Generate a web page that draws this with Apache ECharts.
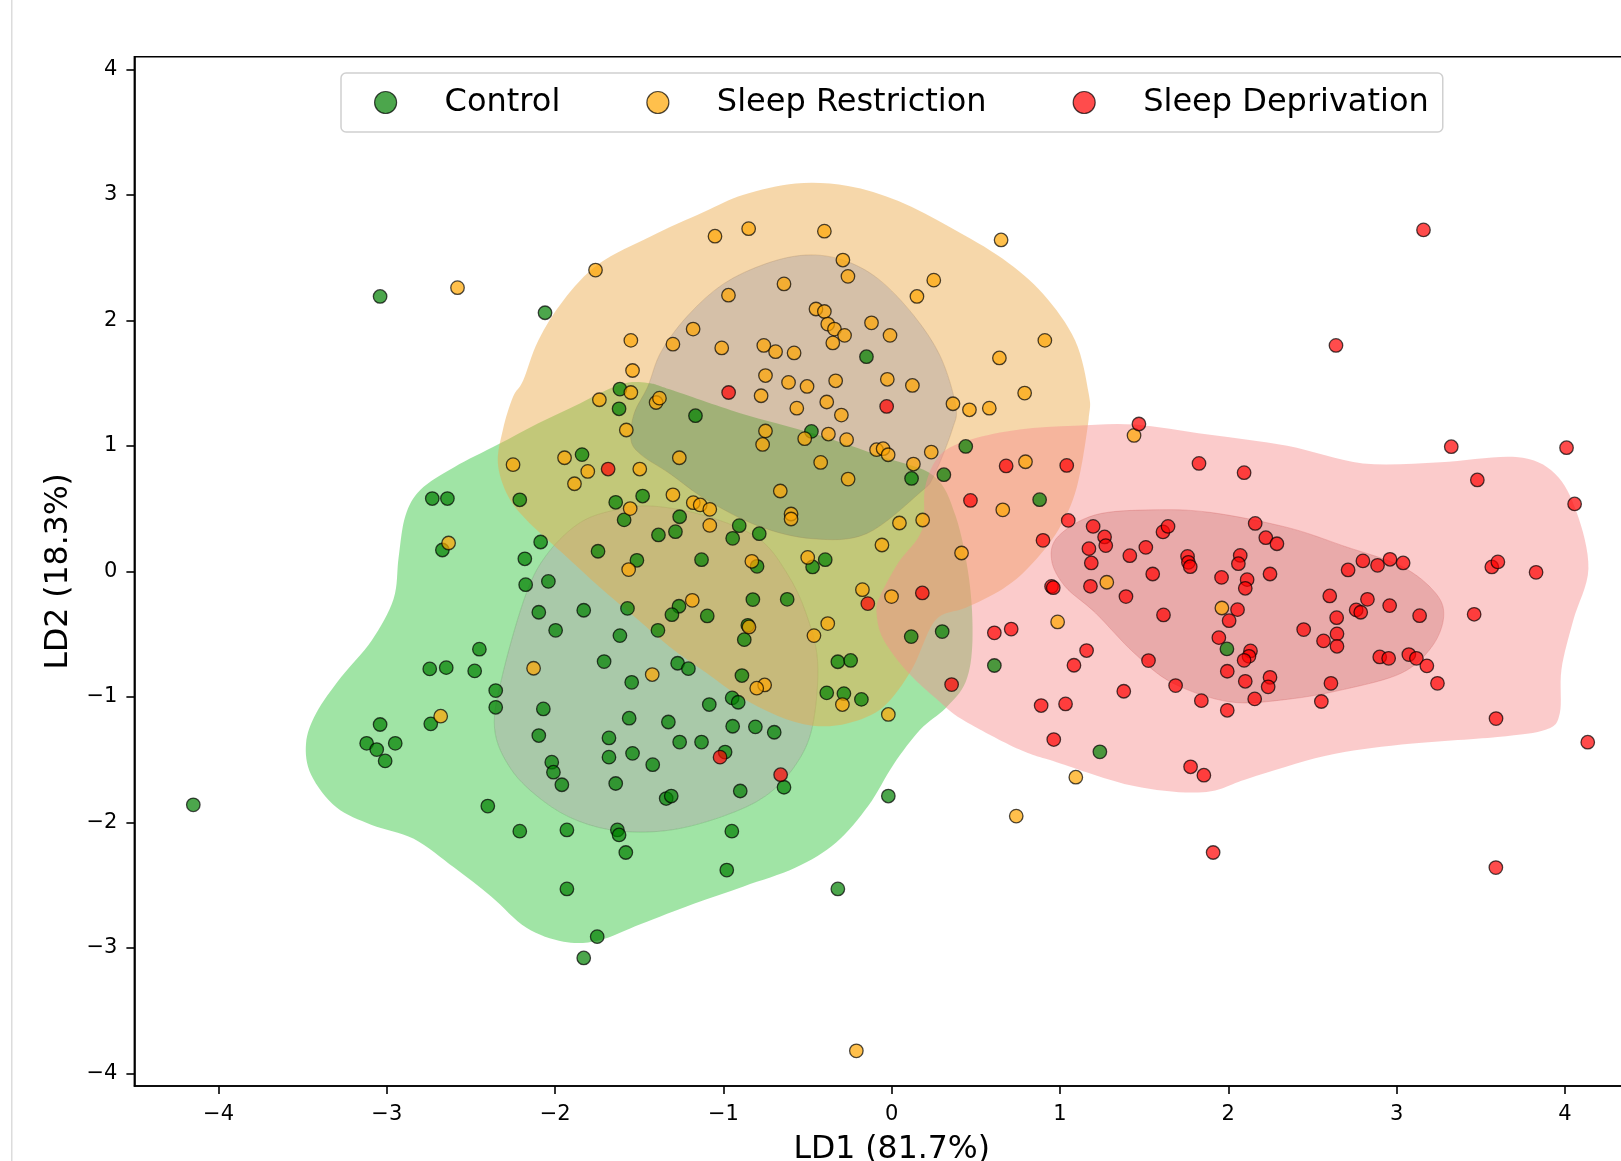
<!DOCTYPE html>
<html><head><meta charset="utf-8">
<script src="https://cdn.jsdelivr.net/npm/echarts@6/dist/echarts.min.js"></script>
<style>html,body{margin:0;padding:0;background:#fff}#c{width:1621px;height:1161px}</style>
</head><body><div id="c"></div><script>
const xTicks = [-4,-3,-2,-1,0,1,2,3,4];
const yTicks = [-4,-3,-2,-1,0,1,2,3,4];
const groupNames = ['Control','Sleep Restriction','Sleep Deprivation'];

const controlPts = [[-3.04,2.19],[-2.06,2.06],[-4.15,-1.86],[-0.15,1.71],
[-1.615,1.452],[-1.62,1.295],[-1.166,1.24],[-0.477,1.115],[0.44,0.995],[-1.84,0.93],[0.118,0.74],[0.31,0.77],
[-2.73,0.58],[-2.64,0.58],[-2.21,0.57],[0.879,0.571],[-1.64,0.55],[-1.48,0.60],[-1.26,0.435],[-1.59,0.41],
[-0.906,0.364],[-0.945,0.263],[-0.787,0.30],[-1.285,0.316],[-1.386,0.29],[-2.086,0.234],[-2.67,0.17],[-1.745,0.16],
[-2.18,0.10],[-1.514,0.088],[-1.13,0.093],[-0.80,0.04],[-0.47,0.035],[-0.395,0.093],[-2.04,-0.08],[-2.175,-0.106],
[-0.621,-0.223],[-0.825,-0.225],[-1.57,-0.295],[-1.83,-0.31],[-2.097,-0.326],[-1.264,-0.278],[-1.306,-0.345],[-1.096,-0.355],
[-1.997,-0.47],[-1.389,-0.47],[-0.876,-0.544],[-0.855,-0.43],[-1.615,-0.512],[0.116,-0.52],[0.30,-0.48],
[-1.709,-0.719],[-2.45,-0.62],[-2.745,-0.777],[-2.647,-0.767],[-2.478,-0.793],[-1.272,-0.732],[-1.208,-0.775],[-1.545,-0.884],[-0.89,-0.83],
[-0.32,-0.72],[-0.244,-0.71],[0.61,-0.75],[-2.353,-0.95],[-2.353,-1.083],[-2.07,-1.096],[-1.084,-1.061],[-0.948,-1.008],[-0.912,-1.043],
[-0.386,-0.968],[-0.284,-0.974],[-0.18,-1.02],[-3.04,-1.22],[-2.739,-1.215],[-1.56,-1.17],[-1.327,-1.2],[-0.945,-1.234],[-0.81,-1.239],[-0.698,-1.282],
[-2.097,-1.308],[-1.68,-1.327],[-3.12,-1.37],[-3.06,-1.42],[-2.95,-1.37],[-3.01,-1.51],[-2.02,-1.52],[-1.68,-1.48],[-1.54,-1.45],[-1.26,-1.36],[-1.13,-1.36],
[-0.99,-1.44],[-1.42,-1.54],[-2.01,-1.60],[-1.96,-1.70],[-1.64,-1.69],[-0.90,-1.75],[-0.64,-1.72],[-1.34,-1.81],[-1.31,-1.79],[-2.40,-1.87],[-0.02,-1.79],
[-2.21,-2.07],[-1.93,-2.06],[-1.63,-2.06],[-1.62,-2.10],[-0.95,-2.07],[-1.58,-2.24],[-0.98,-2.38],[-0.32,-2.53],[-1.93,-2.53],[-1.75,-2.91],[-1.83,-3.08],
[1.237,-1.438],[1.992,-0.618]];

const restrictionPts = [[-2.58,2.26],[-1.76,2.40],[-1.05,2.67],[-0.85,2.73],[-0.40,2.71],[0.65,2.64],[-0.29,2.48],[-0.26,2.35],[-0.64,2.29],[0.25,2.32],
[-0.97,2.20],[0.15,2.19],[-0.45,2.09],[-0.40,2.07],[-0.38,1.97],[-0.34,1.93],[-0.28,1.88],[-0.12,1.98],[-1.18,1.93],[-1.55,1.84],
[-1.30,1.81],[-0.01,1.88],[-0.35,1.82],[-1.01,1.78],[-0.76,1.80],[-0.69,1.75],[-0.58,1.74],[0.91,1.84],[-1.54,1.60],[0.64,1.70],
[-0.75,1.56],[-0.613,1.505],[-0.503,1.473],[-0.333,1.518],[-0.026,1.53],[0.123,1.481],[-0.776,1.399],[-1.55,1.425],[-1.737,1.367],[-1.40,1.345],
[-1.38,1.38],[-0.386,1.349],[0.79,1.42],[-0.564,1.30],[-0.299,1.245],[0.364,1.335],[0.462,1.287],[0.58,1.30],[-0.75,1.118],[-1.577,1.126],
[-0.517,1.057],[-0.376,1.094],[-0.268,1.049],[-0.767,1.011],[-0.09,0.969],[-0.051,0.977],[-0.021,0.929],[0.235,0.95],[0.129,0.855],[-1.262,0.905],
[-1.944,0.905],[-2.25,0.85],[-1.806,0.796],[-1.497,0.815],[-0.422,0.868],[0.795,0.873],[-1.885,0.698],[-0.259,0.735],[-0.662,0.64],[-1.30,0.61],
[-1.179,0.547],[-1.138,0.529],[-1.081,0.494],[0.66,0.49],[-0.598,0.457],[-0.598,0.417],[-1.554,0.50],[0.184,0.409],[0.046,0.385],[-1.081,0.366],
[-2.633,0.226],[-0.058,0.21],[0.415,0.146],[-0.499,0.111],[-0.831,0.08],[-1.563,0.014],[-0.174,-0.146],[-0.001,-0.201],[-1.185,-0.231],[-0.848,-0.443],
[-0.38,-0.416],[-0.462,-0.512],[0.986,-0.403],[-1.423,-0.822],[-2.128,-0.772],[-0.755,-0.905],[-0.802,-0.931],[-2.68,-1.154],[-0.02,-1.14],[-0.293,-1.061],
[1.094,-1.64],[0.74,-1.95],[-0.21,-3.82],[1.278,-0.087],[1.44,1.083],[1.962,-0.292]];

const deprivationPts = [[3.16,2.72],[2.64,1.80],[-0.969,1.425],[-0.03,1.314],[1.469,1.174],[3.325,0.993],[4.01,0.985],[1.826,0.86],[2.094,0.786],[1.04,0.844],
[0.68,0.84],[3.48,0.728],[-1.685,0.815],[0.468,0.565],[4.058,0.537],[1.049,0.406],[1.197,0.358],[1.265,0.274],[1.272,0.205],[1.172,0.181],
[1.612,0.314],[1.642,0.358],[1.51,0.191],[1.415,0.125],[2.16,0.382],[2.223,0.268],[2.289,0.22],[0.899,0.247],[1.758,0.119],[1.763,0.072],
[1.774,0.037],[2.071,0.127],[2.06,0.061],[1.186,0.067],[1.551,-0.021],[2.248,-0.021],[1.96,-0.048],[2.8,0.083],[2.887,0.048],[2.961,0.096],
[3.039,0.067],[2.712,0.011],[3.566,0.035],[3.602,0.075],[3.829,-0.008],[0.95,-0.12],[0.96,-0.13],[1.181,-0.119],[2.112,-0.066],[2.101,-0.135],
[1.392,-0.201],[2.603,-0.196],[2.827,-0.223],[2.055,-0.305],[2.76,-0.307],[2.787,-0.326],[2.959,-0.273],[2.644,-0.369],[3.137,-0.353],[3.461,-0.342],
[-0.142,-0.257],[0.182,-0.172],[0.61,-0.49],[0.71,-0.46],[1.615,-0.347],[2.005,-0.393],[2.448,-0.464],[2.566,-0.554],[2.646,-0.498],[1.944,-0.528],
[2.646,-0.597],[1.158,-0.631],[1.083,-0.748],[1.526,-0.711],[2.132,-0.634],[2.123,-0.677],[2.094,-0.709],[2.9,-0.682],[2.953,-0.693],[3.073,-0.663],
[3.118,-0.693],[3.18,-0.753],[1.994,-0.796],[2.248,-0.844],[2.101,-0.876],[2.237,-0.92],[1.687,-0.91],[2.61,-0.892],[3.243,-0.892],[0.356,-0.902],
[1.379,-0.955],[2.157,-1.016],[1.84,-1.03],[2.553,-1.037],[0.888,-1.069],[1.033,-1.056],[1.994,-1.107],[3.591,-1.173],[4.136,-1.361],[0.963,-1.34],
[-1.02,-1.48],[-0.66,-1.62],[1.776,-1.557],[1.855,-1.624],[1.91,-2.24],[3.59,-2.36]];

// density contour outlines (data coordinates), outer and inner level per group
const controlOuter = [[-2.80,0.65],[-2.60,0.83],[-2.34,1.01],[-2.10,1.18],[-1.85,1.34],[-1.61,1.49],[-1.45,1.50],[-1.32,1.45],[-0.90,1.26],[-0.47,1.10],[-0.05,0.91],[0.25,0.76],[0.38,0.44],[0.46,-0.06],[0.48,-0.55],[0.44,-0.88],[0.32,-1.09],[0.17,-1.26],[0.01,-1.54],[-0.14,-1.87],[-0.33,-2.16],[-0.57,-2.36],[-0.88,-2.51],[-1.18,-2.65],[-1.49,-2.81],[-1.74,-2.94],[-1.95,-2.95],[-2.17,-2.84],[-2.38,-2.59],[-2.60,-2.36],[-2.84,-2.13],[-3.09,-2.02],[-3.30,-1.88],[-3.45,-1.62],[-3.48,-1.37],[-3.42,-1.13],[-3.27,-0.84],[-3.09,-0.55],[-2.96,-0.22],[-2.93,0.11],[-2.89,0.44]];
const controlInner = [[-2.31,-0.81],[-2.17,-0.17],[-2.04,0.15],[-1.85,0.39],[-1.64,0.49],[-1.42,0.52],[-1.10,0.44],[-0.79,0.26],[-0.62,-0.02],[-0.51,-0.33],[-0.44,-0.72],[-0.47,-1.23],[-0.57,-1.54],[-0.75,-1.79],[-1.00,-1.95],[-1.31,-2.06],[-1.61,-2.07],[-1.86,-1.99],[-2.07,-1.83],[-2.26,-1.58],[-2.36,-1.25]];
const restrictionOuter = [[-2.19,1.52],[-2.10,1.84],[-1.95,2.16],[-1.74,2.45],[-1.43,2.67],[-1.12,2.86],[-0.88,3.00],[-0.57,3.09],[-0.26,3.07],[0.04,2.95],[0.35,2.74],[0.66,2.49],[0.90,2.21],[1.09,1.84],[1.17,1.42],[1.17,1.21],[1.10,0.67],[0.99,0.33],[0.82,0.04],[0.66,-0.14],[0.44,-0.29],[0.26,-0.39],[0.12,-0.78],[-0.05,-1.08],[-0.26,-1.21],[-0.47,-1.23],[-0.68,-1.15],[-0.90,-1.00],[-1.10,-0.81],[-1.32,-0.60],[-1.53,-0.36],[-1.74,-0.12],[-1.96,0.15],[-2.17,0.41],[-2.28,0.60],[-2.34,0.86],[-2.31,1.13],[-2.25,1.39]];
const restrictionInner = [[-1.55,1.05],[-1.53,1.26],[-1.45,1.47],[-1.37,1.75],[-1.21,2.04],[-1.00,2.29],[-0.75,2.45],[-0.51,2.52],[-0.29,2.48],[-0.08,2.33],[0.13,2.04],[0.29,1.71],[0.38,1.32],[0.36,1.13],[0.25,0.76],[0.17,0.63],[-0.15,0.30],[-0.47,0.26],[-0.79,0.36],[-1.10,0.57],[-1.32,0.78],[-1.49,0.93]];
const deprivationOuter = [[0.04,0.07],[0.18,0.33],[0.20,0.68],[0.29,0.93],[0.47,1.05],[0.76,1.13],[1.09,1.16],[1.44,1.17],[1.88,1.09],[2.35,1.00],[2.80,0.86],[3.26,0.87],[3.71,0.91],[3.94,0.78],[4.07,0.47],[4.14,0.02],[4.05,-0.39],[3.98,-0.78],[3.97,-1.13],[3.89,-1.26],[3.60,-1.32],[3.03,-1.38],[2.58,-1.47],[2.12,-1.65],[1.85,-1.76],[1.44,-1.71],[0.98,-1.52],[0.76,-1.42],[0.42,-1.18],[0.27,-1.02],[0.10,-0.81],[-0.05,-0.54],[-0.09,-0.33],[-0.07,-0.20]];
const deprivationInner = [[0.95,0.09],[0.99,0.28],[1.21,0.45],[1.55,0.49],[1.89,0.47],[2.35,0.35],[2.69,0.20],[3.03,0.04],[3.23,-0.17],[3.28,-0.36],[3.21,-0.60],[3.03,-0.81],[2.69,-0.94],[2.35,-1.02],[2.01,-1.04],[1.67,-0.89],[1.44,-0.65],[1.21,-0.33],[1.03,-0.12]];

const F = 'DejaVu Sans';

function closedSpline(pts){
  const n = pts.length;
  let d = 'M' + pts[0][0].toFixed(2) + ' ' + pts[0][1].toFixed(2);
  for (let i = 0; i < n; i++) {
    const p0 = pts[(i-1+n)%n], p1 = pts[i], p2 = pts[(i+1)%n], p3 = pts[(i+2)%n];
    const c1x = p1[0] + (p2[0]-p0[0])/6, c1y = p1[1] + (p2[1]-p0[1])/6;
    const c2x = p2[0] - (p3[0]-p1[0])/6, c2y = p2[1] - (p3[1]-p1[1])/6;
    d += ' C' + c1x.toFixed(2)+' '+c1y.toFixed(2)+' '+c2x.toFixed(2)+' '+c2y.toFixed(2)+' '+p2[0].toFixed(2)+' '+p2[1].toFixed(2);
  }
  return d + ' Z';
}
function signedArea(p){ let a=0; for(let i=0;i<p.length;i++){const q=p[(i+1)%p.length]; a+=p[i][0]*q[1]-q[0]*p[i][1];} return a/2; }
function orient(p, pos){ return (signedArea(p) > 0) === pos ? p : p.slice().reverse(); }

function bandSeries(outer, inner, outerFill, innerFill, innerEdge){
  return {
    type: 'custom', coordinateSystem: 'cartesian2d', data: [[0,0]], silent: true, animation: false,
    renderItem: function(params, api){
      const po = orient(outer.map(p => api.coord(p)), true);
      const pin = inner.map(p => api.coord(p));
      const hole = orient(pin, false);
      const fillIn = orient(pin, true);
      return { type: 'group', children: [
        { type: 'path', shape: { pathData: closedSpline(po) + ' ' + closedSpline(hole) }, style: { fill: outerFill, stroke: 'none', lineWidth: 0 } },
        { type: 'path', shape: { pathData: closedSpline(fillIn) }, style: { fill: innerFill, stroke: innerEdge, lineWidth: 1 } }
      ]};
    }
  };
}

const markerColors = ['#008000', '#ffa500', '#ff0000'];
function scatterSeries(name, pts, color){
  return {
    type: 'scatter', name: name, data: pts, symbol: 'circle', symbolSize: 13.5,
    itemStyle: { color: color, borderColor: '#000', borderWidth: 1.3, opacity: 0.7 },
    emphasis: { disabled: true }, animation: false
  };
}
const minus = v => String(v).replace('-', '\u2212');

const chart = echarts.init(document.getElementById('c'), null, { renderer: 'canvas' });
chart.setOption({
  backgroundColor: '#ffffff',
  animation: false,
  graphic: [{ type: 'rect', left: 11, top: 0, shape: { width: 1.5, height: 1161 }, style: { fill: '#dcdcdc' }, silent: true }],
  grid: { left: 134.4, top: 56.7, right: -28, bottom: 75, outerBoundsMode: 'none', containLabel: false, show: true, borderColor: '#000', borderWidth: 1.6, backgroundColor: '#fff' },
  legend: {
    data: groupNames.map((n, i) => ({ name: n, icon: 'circle', itemStyle: { color: markerColors[i], borderColor: '#000', borderWidth: 1.2, opacity: 0.7 } })),
    left: 341, top: 73, orient: 'horizontal',
    itemWidth: 22, itemHeight: 22, itemGap: 86,
    padding: [12, 14, 12, 33],
    backgroundColor: 'rgba(255,255,255,0.8)', borderColor: '#d0d0d0', borderWidth: 1.5, borderRadius: 5,
    textStyle: { fontFamily: F, fontSize: 32, color: '#000', padding: [3, 0, 0, 43], lineHeight: 32 },
    selectedMode: false
  },
  xAxis: {
    type: 'value', min: -4.5, max: 4.5,
    name: 'LD1 (81.7%)', nameLocation: 'middle', nameGap: 48,
    nameTextStyle: { fontFamily: F, fontSize: 31.5, color: '#000' },
    axisLine: { show: true, onZero: false, lineStyle: { color: '#000', width: 1.6 } },
    axisTick: { show: true, length: 8, lineStyle: { color: '#000', width: 1.6 }, customValues: xTicks },
    axisLabel: { customValues: xTicks, fontFamily: F, fontSize: 21, color: '#000', margin: 18, formatter: minus },
    splitLine: { show: false }
  },
  yAxis: {
    type: 'value', min: -4.1, max: 4.1,
    name: 'LD2 (18.3%)', nameLocation: 'middle', nameGap: 60, nameRotate: 90,
    nameTextStyle: { fontFamily: F, fontSize: 31.5, color: '#000' },
    axisLine: { show: true, onZero: false, lineStyle: { color: '#000', width: 1.6 } },
    axisTick: { show: true, length: 8, lineStyle: { color: '#000', width: 1.6 }, customValues: yTicks },
    axisLabel: { customValues: yTicks, fontFamily: F, fontSize: 21, color: '#000', margin: 17, formatter: minus },
    splitLine: { show: false }
  },
  series: [
    bandSeries(controlOuter, controlInner, 'rgba(48,196,59,0.46)', 'rgba(68,138,68,0.46)', 'rgba(68,138,68,0.25)'),
    bandSeries(restrictionOuter, restrictionInner, 'rgba(235,168,70,0.46)', 'rgba(164,118,66,0.46)', 'rgba(164,118,66,0.25)'),
    bandSeries(deprivationOuter, deprivationInner, 'rgba(246,142,142,0.46)', 'rgba(207,70,70,0.46)', 'rgba(207,70,70,0.25)'),
    scatterSeries(groupNames[0], controlPts, markerColors[0]),
    scatterSeries(groupNames[1], restrictionPts, markerColors[1]),
    scatterSeries(groupNames[2], deprivationPts, markerColors[2])
  ]
});
</script></body></html>
